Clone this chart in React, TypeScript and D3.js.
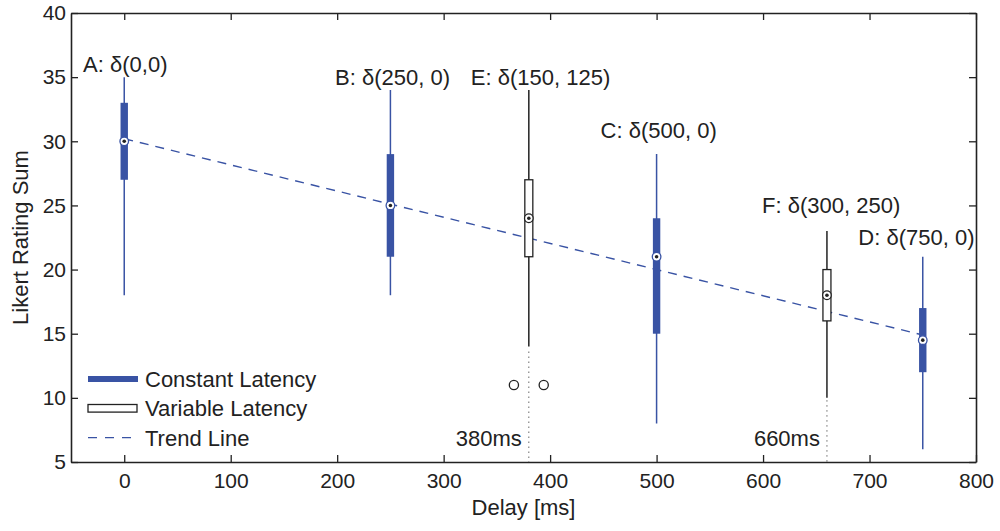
import React, { useRef, useEffect } from "react";
import * as d3 from "d3";

// box plot groups, ordered by delay
const delays = [0, 250, 380, 500, 660, 750];
const latencyType = ["constant", "constant", "variable", "constant", "variable", "constant"];
const medians = [30, 25, 24, 21, 18, 14.5];
const q1 = [27, 21, 21, 15, 16, 12];
const q3 = [33, 29, 27, 24, 20, 17];
const whiskerLow = [18, 18, 14, 8, 10, 6];
const whiskerHigh = [35, 34, 34, 29, 23, 21];

const labelText = ["A: δ(0,0)", "B: δ(250, 0)", "E: δ(150, 125)", "C: δ(500, 0)", "F: δ(300, 250)", "D: δ(750, 0)"];
const labelX = [1, 252, 391, 502, 664, 744];
const labelY = [35.4, 34.4, 34.4, 30.25, 24.4, 21.9];

const outlierX = [366, 394];
const outlierY = [11, 11];

const markerX = [380, 660];
const markerTop = [13.6, 9.8];
const markerLabel = ["380ms", "660ms"];

const trendX = [0, 750];
const trendY = [30.2, 14.9];

const xTicks = [0, 100, 200, 300, 400, 500, 600, 700, 800];
const yTicks = [5, 10, 15, 20, 25, 30, 35, 40];

const legendLabels = ["Constant Latency", "Variable Latency", "Trend Line"];

const App = () => {
  const svgRef = useRef<SVGSVGElement>(null);

  useEffect(() => {
    const width = 1000;
    const height = 531;
    const left = 71;
    const right = 976;
    const top = 13;
    const bottom = 462;
    const blue = "#3953a4";
    const ink = "#222";
    const font = "'Liberation Sans', Arial, Helvetica, sans-serif";

    const svg = d3.select(svgRef.current)
      .attr("width", width)
      .attr("height", height)
      .style("font-family", font);
    svg.selectAll("*").remove();

    const x = d3.scaleLinear().domain([-50, 800]).range([left, right]);
    const y = d3.scaleLinear().domain([5, 40]).range([bottom, top]);

    svg.append("rect")
      .attr("width", width)
      .attr("height", height)
      .attr("fill", "#fff");

    // --- dotted delay markers ---
    markerX.forEach((m, i) => {
      svg.append("line")
        .attr("x1", x(m)).attr("x2", x(m))
        .attr("y1", y(markerTop[i])).attr("y2", y(5))
        .attr("stroke", ink)
        .attr("stroke-width", 1)
        .attr("stroke-dasharray", "1,4");
      svg.append("text")
        .attr("x", x(m) - 7)
        .attr("y", 446)
        .attr("text-anchor", "end")
        .attr("fill", ink)
        .style("font-size", "22px")
        .text(markerLabel[i]);
    });

    // --- trend line ---
    const trend = d3.line<number>()
      .x((d) => x(d))
      .y((d, i) => y(trendY[i]));
    svg.append("path")
      .datum(trendX)
      .attr("fill", "none")
      .attr("stroke", blue)
      .attr("stroke-width", 1.4)
      .attr("stroke-dasharray", "9,7")
      .attr("d", trend);

    // --- boxes ---
    const g = svg.append("g");
    delays.forEach((dx, i) => {
      const cx = x(dx);
      const constant = latencyType[i] === "constant";
      const col = constant ? blue : ink;
      g.append("line")
        .attr("x1", cx).attr("x2", cx)
        .attr("y1", y(whiskerHigh[i])).attr("y2", y(whiskerLow[i]))
        .attr("stroke", col)
        .attr("stroke-width", 1.5);
      if (constant) {
        g.append("rect")
          .attr("x", cx - 3.7)
          .attr("width", 7.4)
          .attr("y", y(q3[i]))
          .attr("height", y(q1[i]) - y(q3[i]))
          .attr("fill", blue);
      } else {
        g.append("rect")
          .attr("x", cx - 4)
          .attr("width", 8)
          .attr("y", y(q3[i]))
          .attr("height", y(q1[i]) - y(q3[i]))
          .attr("fill", "#fff")
          .attr("stroke", ink)
          .attr("stroke-width", 1.3);
      }
      g.append("circle")
        .attr("cx", cx).attr("cy", y(medians[i]))
        .attr("r", 4.3)
        .attr("fill", "#fff")
        .attr("stroke", col)
        .attr("stroke-width", 1.3);
      g.append("circle")
        .attr("cx", cx).attr("cy", y(medians[i]))
        .attr("r", 1.8)
        .attr("fill", ink);
    });

    // --- outliers ---
    g.selectAll("circle.outlier")
      .data(outlierX)
      .join("circle")
      .attr("class", "outlier")
      .attr("cx", (d) => x(d))
      .attr("cy", (d, i) => y(outlierY[i]))
      .attr("r", 4.6)
      .attr("fill", "#fff")
      .attr("stroke", ink)
      .attr("stroke-width", 1.3);

    // --- group labels ---
    labelText.forEach((t, i) => {
      svg.append("text")
        .attr("x", x(labelX[i]))
        .attr("y", y(labelY[i]))
        .attr("text-anchor", "middle")
        .attr("fill", ink)
        .style("font-size", "22px")
        .text(t);
    });

    // --- axes ---
    const styleAxis = (sel) => {
      sel.select(".domain").attr("stroke", ink).attr("stroke-width", 1.6);
      sel.selectAll(".tick line").attr("stroke", ink).attr("stroke-width", 1.3);
      sel.selectAll(".tick text")
        .attr("fill", ink)
        .style("font-size", "21px")
        .style("font-family", font);
    };

    svg.append("g")
      .attr("transform", `translate(0,${bottom})`)
      .call(d3.axisBottom(x).tickValues(xTicks).tickSizeInner(-7).tickSizeOuter(0).tickPadding(11))
      .call(styleAxis);

    svg.append("g")
      .attr("transform", `translate(0,${top})`)
      .call(d3.axisTop(x).tickValues(xTicks).tickSizeInner(-7).tickSizeOuter(0).tickFormat(() => ""))
      .call(styleAxis);

    svg.append("g")
      .attr("transform", `translate(${left},0)`)
      .call(d3.axisLeft(y).tickValues(yTicks).tickSizeInner(-7).tickSizeOuter(0).tickPadding(5))
      .call(styleAxis);

    svg.append("g")
      .attr("transform", `translate(${right},0)`)
      .call(d3.axisRight(y).tickValues(yTicks).tickSizeInner(-7).tickSizeOuter(0).tickFormat(() => ""))
      .call(styleAxis);

    svg.selectAll(".domain").attr("fill", "none");

    // --- axis titles ---
    svg.append("text")
      .attr("x", (left + right) / 2 - 0)
      .attr("y", 515)
      .attr("text-anchor", "middle")
      .attr("fill", ink)
      .style("font-size", "22px")
      .text("Delay [ms]");

    svg.append("text")
      .attr("transform", `translate(28,${(top + bottom) / 2}) rotate(-90)`)
      .attr("text-anchor", "middle")
      .attr("fill", ink)
      .style("font-size", "22px")
      .text("Likert Rating Sum");

    // --- legend ---
    const legend = svg.append("g").attr("transform", "translate(88,379)");
    const rowGap = 29.3;
    legend.append("line")
      .attr("x1", 0).attr("x2", 50)
      .attr("y1", 0).attr("y2", 0)
      .attr("stroke", blue)
      .attr("stroke-width", 6);
    legend.append("rect")
      .attr("x", 0).attr("y", rowGap - 3.8)
      .attr("width", 49).attr("height", 7.6)
      .attr("fill", "#fff")
      .attr("stroke", ink)
      .attr("stroke-width", 1.3);
    legend.append("line")
      .attr("x1", 0).attr("x2", 50)
      .attr("y1", rowGap * 2).attr("y2", rowGap * 2)
      .attr("stroke", blue)
      .attr("stroke-width", 1.4)
      .attr("stroke-dasharray", "9,8");
    legendLabels.forEach((t, i) => {
      legend.append("text")
        .attr("x", 57)
        .attr("y", i * rowGap + 8)
        .attr("fill", ink)
        .style("font-size", "22px")
        .text(t);
    });
  }, []);

  return (
    <div style={{ position: "absolute", left: 0, top: 0 }}>
      <svg ref={svgRef}></svg>
    </div>
  );
};

export default App;
